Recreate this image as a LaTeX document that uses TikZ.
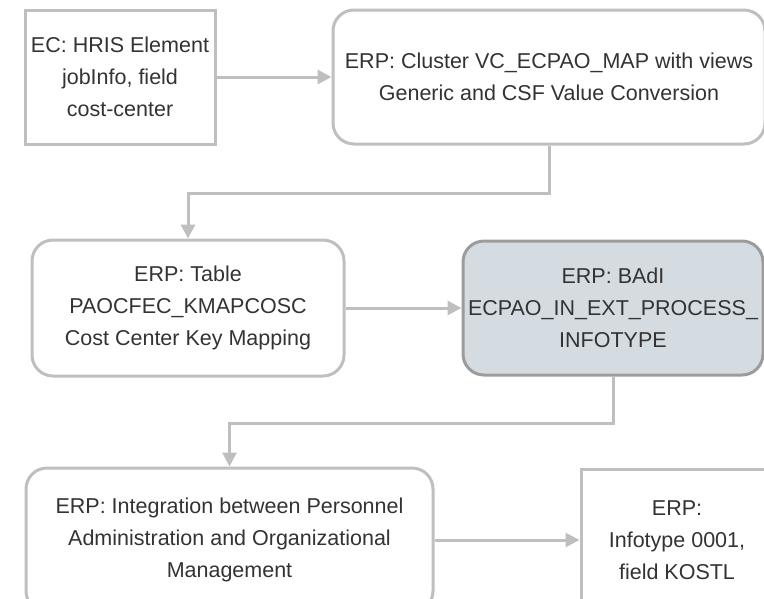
\documentclass[tikz,border=0pt]{standalone}
\usepackage{fontspec}
\setmainfont{Liberation Sans}
\usepackage{tikz}
\usetikzlibrary{arrows.meta}
\definecolor{grigio}{HTML}{BFBFBF}
\definecolor{grigioscuro}{HTML}{9C9C9C}
\definecolor{azzurrino}{HTML}{D5DCE1}
\definecolor{testo}{HTML}{333333}

\begin{document}
\begin{tikzpicture}[x=1pt,y=-1pt,>={Triangle[length=14pt,width=14pt]},
		box/.style={draw=grigio,line width=3pt,fill=white,align=center,text=testo,
			font=\fontsize{21.5}{32}\selectfont,inner sep=0pt},
		tondo/.style={box,rounded corners=21pt},
		freccia/.style={draw=grigio,line width=3pt,->}]
		%\draw [help lines] (0,0) grid (764,598);
		\useasboundingbox (0,0) rectangle (764,598);
		\clip (0,0) rectangle (764,598);
		% EC
		\node [box,minimum width=190pt,minimum height=134pt] (ec) at (120,77)
			{EC: HRIS Element\\jobInfo, field\\cost-center};
		% Cluster
		\node [tondo,minimum width=432pt,minimum height=134pt] (cluster) at (549,77)
			{ERP: Cluster VC\_ECPAO\_MAP with views\\Generic and CSF Value Conversion};
		% Tabella
		\node [tondo,minimum width=312pt,minimum height=136pt] (tabella) at (188,308)
			{ERP: Table\\PAOCFEC\_KMAPCOSC\\Cost Center Key Mapping};
		% BAdI
		\node [tondo,draw=grigioscuro,fill=azzurrino,minimum width=300pt,minimum height=134pt] (badi) at (613,308)
			{ERP: BAdI\\ECPAO\_IN\_EXT\_PROCESS\_\\INFOTYPE};
		% Integrazione
		\node [tondo,minimum width=407pt,minimum height=144pt] (integr) at (229.5,540)
			{ERP: Integration between Personnel\\Administration and Organizational\\Management};
		% Infotipo
		\node [box,minimum width=192pt,minimum height=142pt] (infotipo) at (677,540)
			{ERP:\\Infotype 0001,\\field KOSTL};

		% Frecce
		\draw [freccia] (ec) -- (cluster);
		\draw [freccia] (cluster.south) -- ++(0,48) -| (tabella.north);
		\draw [freccia] (tabella) -- (badi);
		\draw [freccia] (badi.south) -- ++(0,47) -| (integr.north);
		\draw [freccia] (integr) -- (infotipo);
	\end{tikzpicture}
\end{document}
